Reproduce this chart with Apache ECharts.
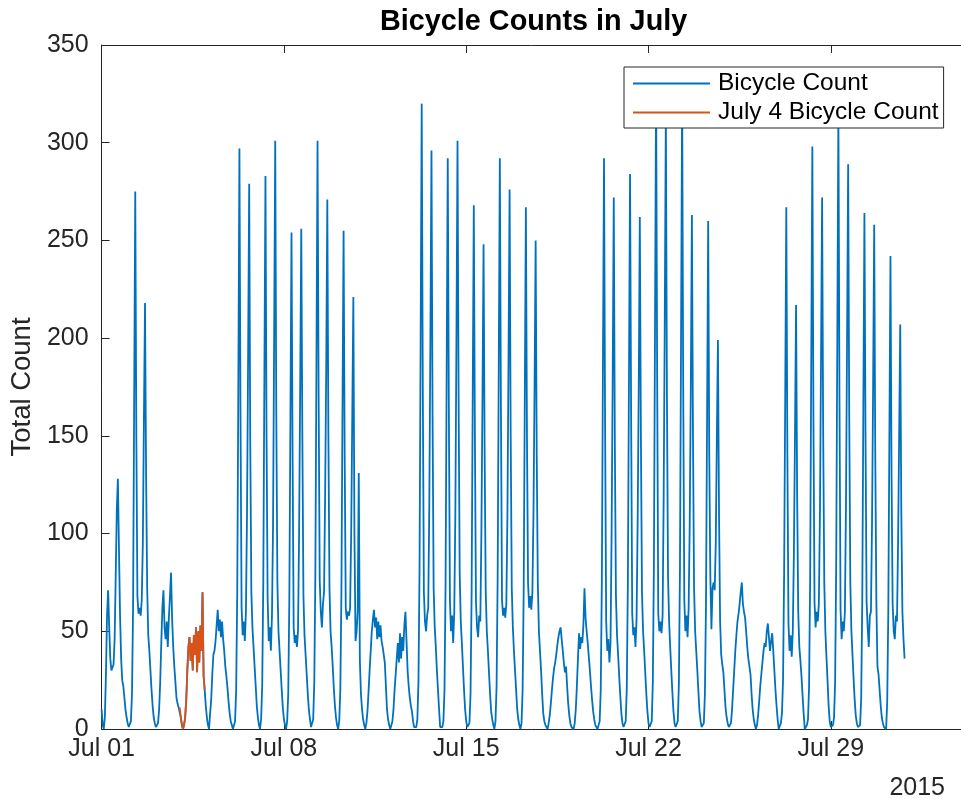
<!DOCTYPE html>
<html><head><meta charset="utf-8">
<script src="https://cdn.jsdelivr.net/npm/echarts@6/dist/echarts.min.js"></script>
<style>html,body{margin:0;padding:0;background:#fff}#c{width:961px;height:799px}</style>
</head><body><div id="c"></div>
<script>
// Hourly total bicycle counts, one array per day of July 2015 (hours 0..23)
const jul01 = [10, 2, 0, 6, 28, 58, 71, 52, 36, 30, 31, 33, 46, 78, 112, 128, 92, 58, 36, 25, 22, 16, 10, 6];
const jul02 = [3, 1, 0, 4, 18, 62, 168, 275, 150, 68, 59, 62, 58, 66, 95, 160, 218, 130, 72, 48, 40, 30, 20, 12];
const jul03 = [6, 3, 1, 0, 3, 10, 24, 44, 62, 71, 52, 46, 55, 42, 57, 68, 80, 56, 42, 32, 24, 16, 13, 11];
const jul04 = [11, 6, 2, 0, 2, 6, 15, 30, 42, 47, 35, 44, 30, 48, 38, 52, 29, 50, 34, 53, 40, 70, 27, 20];
const jul05 = [12, 6, 2, 0, 8, 15, 28, 38, 40, 45, 53, 61, 50, 56, 47, 55, 46, 40, 32, 27, 21, 14, 8, 4];
const jul06 = [2, 0, 1, 4, 20, 70, 175, 297, 160, 62, 48, 55, 45, 60, 110, 190, 279, 145, 70, 52, 42, 32, 22, 12];
const jul07 = [6, 2, 0, 5, 22, 75, 180, 283, 150, 67, 45, 52, 40, 58, 105, 200, 301, 160, 75, 50, 40, 30, 20, 11];
const jul08 = [5, 2, 0, 4, 18, 66, 160, 254, 140, 52, 44, 48, 42, 50, 100, 175, 256, 150, 68, 48, 38, 28, 18, 10];
const jul09 = [5, 1, 0, 5, 24, 80, 190, 301, 170, 76, 60, 52, 64, 70, 120, 185, 271, 150, 72, 50, 42, 32, 21, 12];
const jul10 = [6, 2, 0, 4, 20, 70, 165, 255, 140, 62, 56, 60, 58, 62, 100, 160, 221, 100, 45, 50, 60, 131, 35, 18];
const jul11 = [10, 5, 2, 0, 3, 9, 19, 30, 40, 50, 56, 61, 52, 57, 46, 55, 47, 53, 45, 42, 38, 34, 22, 10];
const jul12 = [5, 2, 0, 1, 4, 10, 20, 28, 36, 44, 34, 49, 36, 47, 40, 53, 60, 45, 30, 22, 16, 12, 9, 4];
const jul13 = [1, 0, 1, 5, 24, 82, 200, 320, 175, 70, 55, 50, 58, 62, 115, 200, 296, 160, 72, 52, 42, 30, 20, 10];
const jul14 = [1, 0, 1, 4, 20, 75, 185, 292, 165, 66, 50, 58, 44, 60, 110, 200, 301, 170, 80, 55, 44, 32, 20, 10];
const jul15 = [4, 1, 0, 3, 18, 70, 170, 268, 150, 65, 52, 47, 58, 55, 100, 170, 248, 140, 70, 50, 40, 29, 18, 9];
const jul16 = [5, 2, 0, 4, 22, 78, 185, 292, 165, 66, 58, 62, 57, 64, 110, 190, 276, 150, 72, 52, 40, 30, 20, 10];
const jul17 = [5, 2, 0, 3, 20, 72, 170, 267, 150, 75, 62, 68, 61, 70, 110, 175, 250, 140, 75, 50, 40, 30, 18, 8];
const jul18 = [4, 2, 1, 0, 3, 7, 13, 20, 26, 31, 34, 38, 43, 47, 50, 52, 46, 40, 34, 29, 32, 22, 13, 7];
const jul19 = [3, 1, 0, 0, 3, 10, 22, 36, 49, 41, 47, 44, 53, 72, 57, 50, 44, 37, 30, 22, 15, 9, 5, 2];
const jul20 = [1, 0, 1, 4, 20, 75, 185, 292, 155, 55, 40, 46, 34, 44, 100, 180, 272, 145, 68, 48, 38, 27, 17, 8];
const jul21 = [3, 1, 0, 4, 21, 75, 180, 284, 160, 59, 48, 52, 42, 56, 105, 175, 262, 150, 70, 50, 40, 29, 18, 9];
const jul22 = [3, 1, 0, 4, 24, 85, 205, 330, 180, 59, 50, 55, 49, 58, 120, 210, 316, 170, 78, 55, 42, 30, 19, 9];
const jul23 = [3, 1, 0, 4, 23, 82, 200, 325, 175, 66, 50, 58, 47, 62, 105, 175, 263, 150, 72, 50, 40, 30, 19, 9];
const jul24 = [4, 1, 0, 3, 18, 65, 160, 260, 140, 78, 51, 72, 75, 71, 95, 150, 199, 110, 55, 38, 33, 29, 20, 11];
const jul25 = [6, 3, 1, 0, 3, 10, 20, 30, 40, 48, 55, 59, 64, 70, 75, 64, 60, 57, 50, 42, 36, 32, 28, 18];
const jul26 = [10, 5, 2, 0, 2, 7, 14, 22, 28, 34, 40, 44, 42, 50, 54, 47, 40, 45, 49, 40, 30, 20, 12, 5];
const jul27 = [0, 1, 3, 8, 25, 80, 170, 267, 140, 54, 40, 48, 37, 50, 90, 150, 217, 120, 60, 42, 35, 27, 17, 8];
const jul28 = [0, 1, 2, 5, 22, 78, 190, 298, 160, 65, 52, 60, 55, 64, 110, 190, 272, 150, 75, 50, 37, 25, 12, 4];
const jul29 = [1, 0, 2, 6, 24, 85, 200, 315, 170, 61, 46, 55, 50, 60, 115, 200, 289, 160, 75, 50, 38, 26, 15, 7];
const jul30 = [3, 1, 0, 2, 15, 65, 165, 264, 150, 65, 52, 42, 58, 60, 105, 175, 258, 140, 65, 32, 28, 20, 12, 6];
const jul31 = [3, 1, 1, 0, 14, 60, 150, 242, 130, 64, 50, 46, 58, 55, 95, 150, 207, 110, 60, 46, 36];

const dayArrays = [jul01, jul02, jul03, jul04, jul05, jul06, jul07, jul08, jul09, jul10,
  jul11, jul12, jul13, jul14, jul15, jul16, jul17, jul18, jul19, jul20,
  jul21, jul22, jul23, jul24, jul25, jul26, jul27, jul28, jul29, jul30, jul31];
const july4Day = 3;               // index of Jul 04 in dayArrays
const tickLabels = ['Jul 01', 'Jul 08', 'Jul 15', 'Jul 22', 'Jul 29'];
const yearLabel = '2015';
const seriesNames = ['Bicycle Count', 'July 4 Bicycle Count'];
const yTicks = [0, 50, 100, 150, 200, 250, 300, 350];

const HOURS_PER_DAY = 24, HOURS_PER_WEEK = 168;
const counts = [].concat(...dayArrays);
const blueData = counts.map((v, i) => [i, v]);
const orangeData = dayArrays[july4Day].map((v, i) => [july4Day * HOURS_PER_DAY + i, v]);

const FONT = '"Liberation Sans", Arial, Helvetica, sans-serif';
const TXT = '#262626';
const BLUE = '#0072BD', ORANGE = '#D95319';

const chart = echarts.init(document.getElementById('c'), null, {renderer: 'canvas'});
chart.setOption({
  animation: false,
  backgroundColor: '#fff',
  textStyle: {fontFamily: FONT},
  title: {
    text: 'Bicycle Counts in July',
    left: 380, top: 8, padding: 0,
    textStyle: {fontFamily: FONT, fontSize: 28.8, fontWeight: 'bold', color: '#000'}
  },
  grid: {left: 101, right: -7, top: 45, bottom: 70, containLabel: false},
  legend: {
    data: seriesNames.map((n, i) => ({name: n, icon: 'rect', itemStyle: {color: i ? ORANGE : BLUE}})),
    orient: 'vertical',
    left: 624, top: 67,
    padding: [2, 5, 1, 9],
    itemWidth: 77, itemHeight: 2, itemGap: 0,
    backgroundColor: '#fff',
    borderColor: TXT, borderWidth: 1,
    textStyle: {fontFamily: FONT, fontSize: 24.5, color: '#000', lineHeight: 29, padding: [0, 0, 0, 3]}
  },
  xAxis: [{
    type: 'value', min: 0, max: 33 * HOURS_PER_DAY, interval: HOURS_PER_WEEK,
    axisLine: {show: true, lineStyle: {color: TXT, width: 1}},
    axisTick: {show: true, inside: true, length: 8, lineStyle: {color: TXT}},
    axisLabel: {
      fontFamily: FONT, fontSize: 25, color: TXT, margin: 8,
      showMaxLabel: false,
      formatter: v => tickLabels[Math.round(v / HOURS_PER_WEEK)] || ''
    },
    splitLine: {show: false}
  }, {
    type: 'value', position: 'top', min: 0, max: 33 * HOURS_PER_DAY, interval: HOURS_PER_WEEK,
    axisLine: {show: true, lineStyle: {color: TXT, width: 1}},
    axisTick: {show: true, inside: true, length: 8, lineStyle: {color: TXT}},
    axisLabel: {show: false},
    splitLine: {show: false}
  }],
  yAxis: {
    type: 'value', min: yTicks[0], max: yTicks[yTicks.length - 1], interval: 50,
    name: 'Total Count', nameLocation: 'middle', nameGap: 64, nameRotate: 90,
    nameTextStyle: {fontFamily: FONT, fontSize: 27.5, color: TXT},
    axisLine: {show: true, lineStyle: {color: TXT, width: 1}},
    axisTick: {show: true, inside: true, length: 8, lineStyle: {color: TXT}},
    axisLabel: {fontFamily: FONT, fontSize: 25, color: TXT, margin: 13},
    splitLine: {show: false}
  },
  series: [{
    name: seriesNames[0], type: 'line', data: blueData,
    symbol: 'none', showSymbol: false,
    lineStyle: {color: BLUE, width: 1.8},
    itemStyle: {color: BLUE},
    z: 2
  }, {
    name: seriesNames[1], type: 'line', data: orangeData,
    symbol: 'none', showSymbol: false,
    lineStyle: {color: ORANGE, width: 1.8},
    itemStyle: {color: ORANGE},
    z: 3
  }],
  graphic: [{
    type: 'text', right: 16, top: 776,
    style: {text: yearLabel, font: '25px ' + FONT, fill: TXT}
  }]
});
</script>
</body></html>
